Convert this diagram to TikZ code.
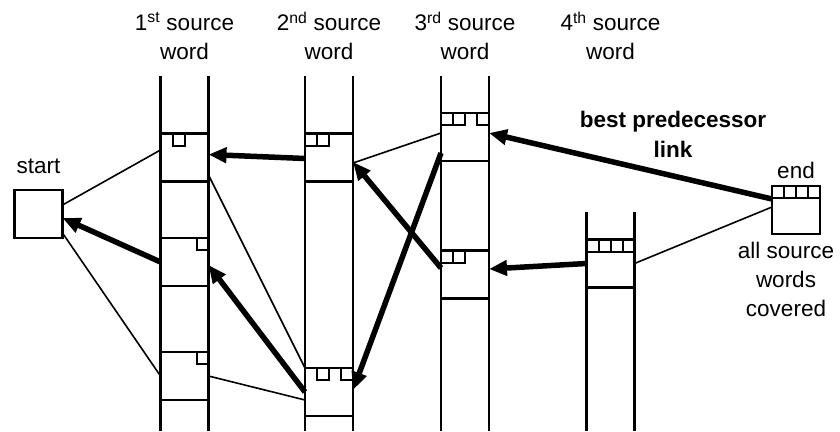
\documentclass[tikz,border=0pt]{standalone}
\usepackage{fontspec}
\setmainfont{Liberation Sans}
\usepackage{tikz}
\usetikzlibrary{
    positioning,
    arrows.meta
}
\tikzset{
    >={Triangle[length=18pt,width=15pt]},
    hyp/.style={
        draw,
        line width=2.2pt,
        minimum width=48pt,
        minimum height=48pt,
        inner sep=0pt,
        outer sep=0pt
    },
    columna/.style={line width=2.6pt},
    casilla/.style={line width=2pt},
    fino/.style={line width=1.6pt},
    grueso/.style={->, line width=5.5pt},
    etiqueta/.style={
        inner sep=0pt,
        align=center,
        font=\fontsize{22.5}{29}\selectfont
    }
}
\newcommand{\casillas}[2]{%
    \foreach \i in {#2} {
        \draw[casilla] ([xshift={(\i-1)*12pt}]#1.north west) rectangle ++(12,12);
    }%
}

\begin{document}
\begin{tikzpicture}[x=1pt, y=-1pt]
    \useasboundingbox (0,0) rectangle (840,431);

    % Columnas
    \foreach \cx/\cy in {184.5/76, 329/76, 465/76, 610.5/212} {
        \draw[columna] (\cx-24,\cy) -- (\cx-24,431);
        \draw[columna] (\cx+24,\cy) -- (\cx+24,431);
    }

    % Hipotesis
    \node[hyp] (start) at (38.5,214)   {};
    \node[hyp] (c1a)   at (184.5,157.5) {};
    \node[hyp] (c1b)   at (184.5,262)   {};
    \node[hyp] (c1c)   at (184.5,376)   {};
    \node[hyp] (c2a)   at (329,157.5)   {};
    \node[hyp] (c2b)   at (329,392)     {};
    \node[hyp] (c3a)   at (465,137)     {};
    \node[hyp] (c3b)   at (465,274.5)   {};
    \node[hyp] (c4a)   at (610.5,263.5) {};
    \node[hyp] (final) at (796,210)     {};

    % Palabras cubiertas
    \casillas{c1a}{2}
    \casillas{c1b}{4}
    \casillas{c1c}{4}
    \casillas{c2a}{1,2}
    \casillas{c2b}{2,4}
    \casillas{c3a}{1,2,4}
    \casillas{c3b}{1,2}
    \casillas{c4a}{1,2,3,4}
    \casillas{final}{1,2,3,4}

    % Etiquetas
    \node[etiqueta] (w1) at (184.5,36) {1\textsuperscript{st} source\\word};
    \node[etiqueta] (w2) at (329,36)   {2\textsuperscript{nd} source\\word};
    \node[etiqueta] (w3) at (465,36)   {3\textsuperscript{rd} source\\word};
    \node[etiqueta] (w4) at (610.5,36) {4\textsuperscript{th} source\\word};
    \node[etiqueta, above=16pt of start] (tstart) {start};
    \node[etiqueta, above=7pt of final]  (tend)   {end};
    \node[etiqueta, below=8pt of final, xshift=-10pt] (tcov) {all source\\words\\covered};

    % Enlaces
    \path[fino]
        ([yshift=9pt]start.east)   edge ([yshift=7.5pt]c1a.west)
        ([yshift=-19pt]start.east) edge (c1c.west)
        ([yshift=-17.5pt]c1a.east) edge (c2b.north west)
        (c1c.east)                 edge ([yshift=-8pt]c2b.west)
        ([yshift=-5.5pt]c2a.east)  edge ([yshift=4pt]c3a.west)
        (c4a.east)                 edge ([yshift=3pt]final.west);

    % Mejores predecesores
    \path[grueso]
        (c1b.west)                edge ([yshift=-4pt]start.east)
        ([yshift=-1pt]c2a.west)   edge ([yshift=3pt]c1a.east)
        (c2b.west)                edge ([yshift=-3pt]c1b.east)
        ([yshift=6.5pt]c3b.west)  edge ([yshift=-4.5pt]c2a.east)
        ([yshift=-16pt]c3a.west)  edge ([yshift=2pt]c2b.east)
        (c4a.west)                edge ([yshift=5.5pt]c3b.east)
        ([yshift=11pt]final.west)
            edge node[etiqueta, font=\fontsize{22.5}{30}\selectfont\bfseries,
                      pos=0.35, above=16pt] {best predecessor\\link}
            ([yshift=4pt]c3a.east);

\end{tikzpicture}
\end{document}
